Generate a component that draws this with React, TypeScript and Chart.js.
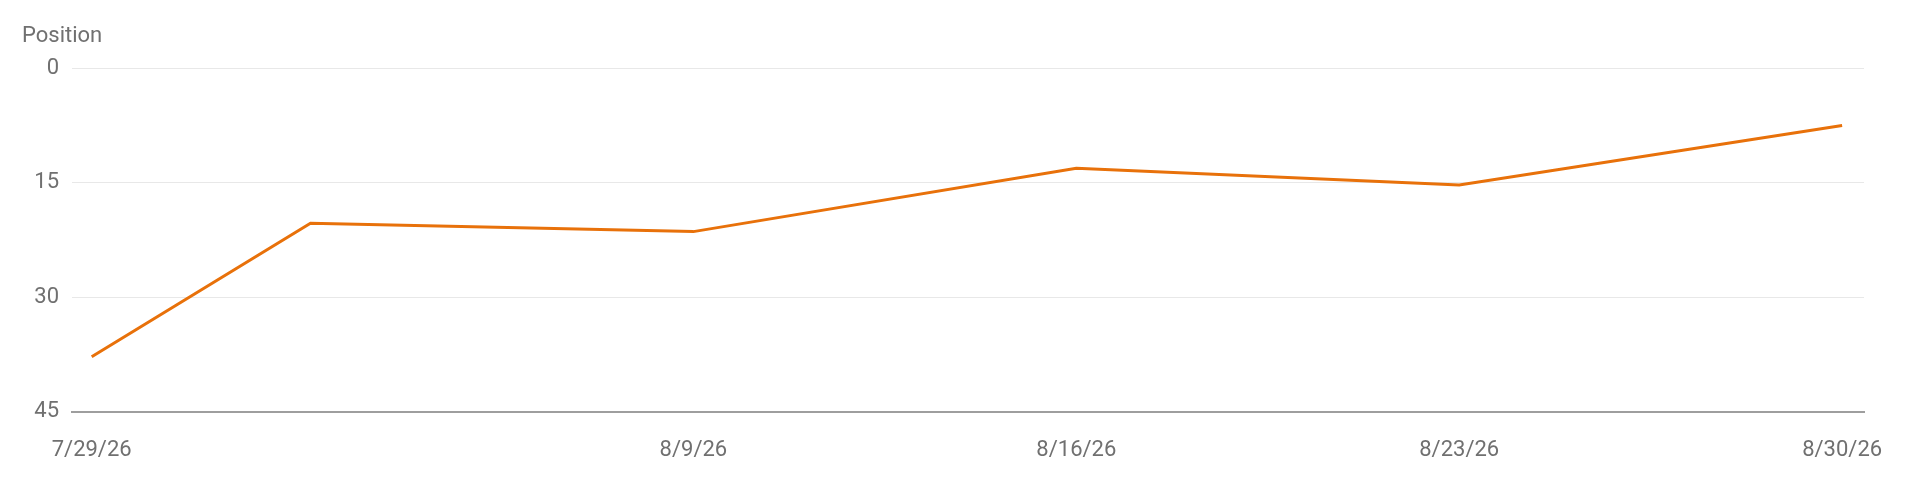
import { useEffect, useRef } from 'react'
import { Chart, registerables } from 'chart.js'

Chart.register(...registerables);

// days since 7/29/26 for each data point
const pointDays = [0, 4, 11, 18, 25, 32];
const positions = [37.8, 20.3, 21.4, 13.1, 15.3, 7.5];

const tickDays = [0, 11, 18, 25, 32];
const tickLabels = ['7/29/26', '8/9/26', '8/16/26', '8/23/26', '8/30/26'];

const lineColor = '#e8710a';
const textColor = '#707070';
const fontFamily = 'Roboto, "Noto Sans", sans-serif';

export default function App() {
  const canvasRef = useRef<HTMLCanvasElement>(null);

  useEffect(() => {
    if (!canvasRef.current) return;
    const chart = new Chart(canvasRef.current, {
      type: 'line',
      data: {
        datasets: [{
          label: 'Position',
          data: pointDays.map((d, i) => ({ x: d, y: positions[i] })),
          borderColor: lineColor,
          borderWidth: 3,
          pointRadius: 0,
          tension: 0,
        }],
      },
      options: {
        animation: false,
        responsive: true,
        maintainAspectRatio: false,
        layout: { padding: { left: 22, right: 56, top: 0, bottom: 38 } },
        plugins: {
          legend: { display: false },
          tooltip: { enabled: false },
          title: {
            display: true,
            text: 'Position',
            align: 'start',
            color: textColor,
            font: { family: fontFamily, size: 22, weight: 'normal' },
            padding: { top: 23, bottom: 19 },
          },
        },
        scales: {
          x: {
            type: 'linear',
            min: -0.36,
            max: 32.4,
            afterBuildTicks: (scale) => {
              scale.ticks = tickDays.map(v => ({ value: v }));
            },
            // label area: padding + one line of text
            afterFit: (scale) => { scale.height = 52.4; },
            ticks: {
              color: textColor,
              font: { family: fontFamily, size: 22 },
              padding: 26,
              maxRotation: 0,
              autoSkip: false,
              callback: (value) => tickLabels[tickDays.indexOf(Number(value))] ?? '',
            },
            grid: { display: false, drawTicks: false },
            border: { display: true, color: '#9e9e9e', width: 2 },
          },
          y: {
            type: 'linear',
            reverse: true,
            min: 0,
            max: 45,
            afterFit: (scale) => { scale.width = 50; },
            ticks: {
              stepSize: 15,
              color: textColor,
              font: { family: fontFamily, size: 22 },
              padding: 13,
            },
            grid: {
              drawTicks: false,
              color: (ctx) => (ctx.tick && ctx.tick.value === 45 ? 'rgba(0,0,0,0)' : '#e8e8e8'),
              lineWidth: 1,
            },
            border: { display: false },
          },
        },
      },
    });
    return () => chart.destroy();
  }, []);

  return (
    <div style={{ position: 'absolute', left: 0, top: 0, width: 1920, height: 502, background: '#fff' }}>
      <canvas ref={canvasRef} />
    </div>
  );
}
